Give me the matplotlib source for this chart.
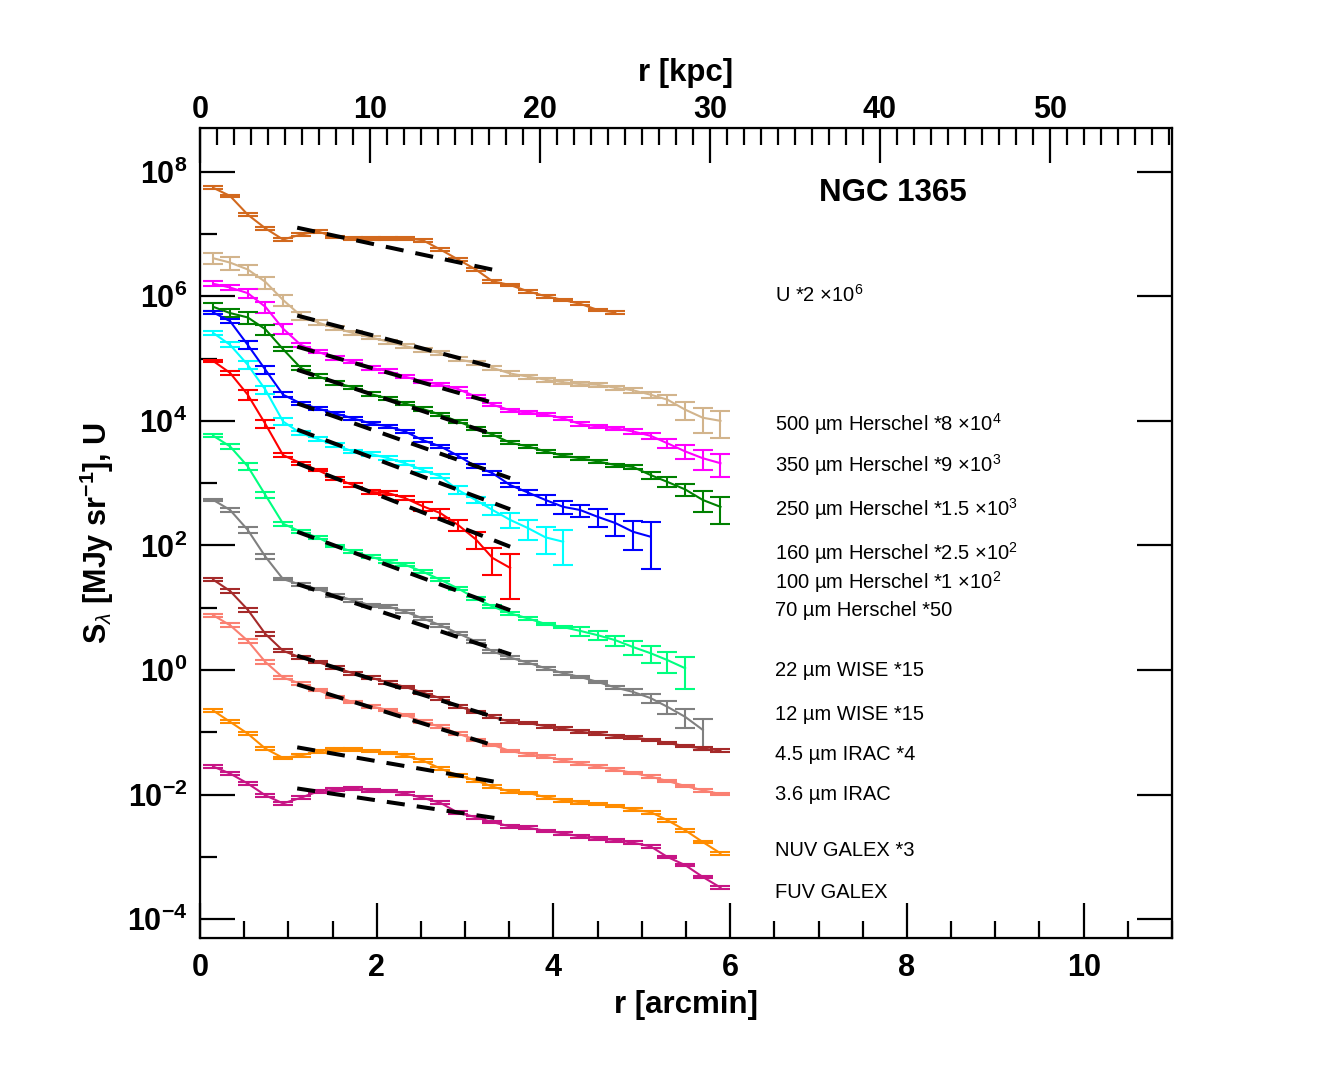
import matplotlib
matplotlib.use("Agg")
import matplotlib.pyplot as plt
from matplotlib.ticker import FixedLocator, MultipleLocator, NullFormatter
import numpy as np

plt.rcParams['font.family'] = ['Liberation Sans', 'DejaVu Sans']
plt.rcParams['mathtext.fontset'] = 'custom'
plt.rcParams['mathtext.rm'] = 'Liberation Sans'
plt.rcParams['mathtext.bf'] = 'Liberation Sans:bold'
plt.rcParams['mathtext.it'] = 'Liberation Sans:italic'

KPC_PER_ARCMIN = 5.2

# radial bins [arcmin]
r = [0.15, 0.34, 0.54, 0.74, 0.94, 1.14, 1.33, 1.53, 1.73, 1.93,
     2.13, 2.32, 2.52, 2.72, 2.92, 3.12, 3.31, 3.51, 3.71, 3.91,
     4.11, 4.30, 4.50, 4.70, 4.90, 5.10, 5.29, 5.49, 5.69, 5.89]

names = ["U", "500", "350", "250", "160", "100", "70",
         "22", "12", "4.5", "3.6", "NUV", "FUV"]
colors = ["#D2691E", "#D2B48C", "#FF00FF", "#008000", "#0000FF", "#00FFFF", "#FF0000",
          "#00FF7F", "#808080", "#A52A2A", "#FA8072", "#FF8C00", "#C71585"]
labels = [r"U *2 $\times\mathregular{10^{6}}$",
          r"500 µm Herschel *8 $\times\mathregular{10^{4}}$",
          r"350 µm Herschel *9 $\times\mathregular{10^{3}}$",
          r"250 µm Herschel *1.5 $\times\mathregular{10^{3}}$",
          r"160 µm Herschel *2.5 $\times\mathregular{10^{2}}$",
          r"100 µm Herschel *1 $\times\mathregular{10^{2}}$",
          "70 µm Herschel *50",
          "22 µm WISE *15",
          "12 µm WISE *15",
          "4.5 µm IRAC *4",
          "3.6 µm IRAC",
          "NUV GALEX *3",
          "FUV GALEX"]
label_y = [295, 424, 465, 509, 553, 582, 611, 670, 715, 754, 794, 851, 893]  # pixel rows

# log10 of scaled surface brightness
logS_U = [7.74, 7.61, 7.31, 7.09, 6.91, 6.99, 7.04, 6.95, 6.93, 6.93, 6.93, 6.93, 6.90, 6.75, 6.59,
          6.43, 6.24, 6.18, 6.08, 6.00, 5.94, 5.88, 5.78, 5.74]
logS_500 = [6.61, 6.54, 6.43, 6.23, 5.94, 5.69, 5.58, 5.49, 5.41, 5.34, 5.27, 5.20, 5.14, 5.09, 4.99,
            4.93, 4.85, 4.76, 4.71, 4.66, 4.62, 4.59, 4.58, 4.53, 4.49, 4.42, 4.34, 4.18, 4.05, 4.00]
logS_350 = [6.20, 6.14, 6.05, 5.83, 5.48, 5.22, 5.11, 5.01, 4.95, 4.85, 4.80, 4.71, 4.63, 4.58, 4.51,
            4.39, 4.26, 4.17, 4.13, 4.10, 4.04, 3.95, 3.91, 3.88, 3.83, 3.76, 3.64, 3.51, 3.40, 3.32]
logS_250 = [5.83, 5.73, 5.66, 5.47, 5.15, 4.85, 4.72, 4.61, 4.54, 4.43, 4.36, 4.28, 4.19, 4.10, 3.99,
            3.88, 3.78, 3.65, 3.59, 3.51, 3.44, 3.40, 3.35, 3.29, 3.26, 3.13, 3.02, 2.90, 2.73, 2.62]
logS_160 = [5.74, 5.60, 5.22, 4.82, 4.42, 4.28, 4.20, 4.12, 4.04, 3.96, 3.91, 3.83, 3.69, 3.59, 3.44,
            3.27, 3.16, 2.97, 2.85, 2.73, 2.62, 2.57, 2.46, 2.36, 2.22, 2.14]
logS_100 = [5.41, 5.22, 4.90, 4.50, 3.99, 3.80, 3.71, 3.61, 3.51, 3.47, 3.40, 3.32, 3.21, 3.11, 2.89,
            2.73, 2.57, 2.41, 2.28, 2.13, 2.06]
logS_70 = [4.96, 4.77, 4.42, 3.95, 3.45, 3.32, 3.21, 3.08, 2.97, 2.86, 2.84, 2.76, 2.63, 2.52, 2.33,
           2.10, 1.80, 1.64]
logS_22 = [3.76, 3.59, 3.27, 2.81, 2.35, 2.22, 2.13, 1.99, 1.90, 1.82, 1.74, 1.69, 1.58, 1.45, 1.31,
           1.15, 1.02, 0.91, 0.83, 0.74, 0.69, 0.63, 0.56, 0.48, 0.37, 0.27, 0.16, 0.03]
logS_12 = [2.73, 2.57, 2.25, 1.82, 1.46, 1.37, 1.30, 1.20, 1.12, 1.04, 1.02, 0.94, 0.83, 0.72, 0.59,
           0.46, 0.30, 0.20, 0.12, 0.03, -0.05, -0.11, -0.19, -0.28, -0.35, -0.45, -0.59, -0.75, -0.96]
logS_45 = [1.45, 1.27, 0.97, 0.58, 0.31, 0.20, 0.13, 0.04, -0.05, -0.12, -0.20, -0.27, -0.36, -0.45, -0.58,
           -0.67, -0.75, -0.83, -0.85, -0.90, -0.94, -0.99, -1.02, -1.06, -1.08, -1.12, -1.17, -1.22, -1.26, -1.29]
logS_36 = [0.88, 0.72, 0.47, 0.13, -0.12, -0.22, -0.32, -0.43, -0.51, -0.58, -0.64, -0.72, -0.83, -0.91, -1.02,
           -1.12, -1.20, -1.30, -1.35, -1.39, -1.45, -1.50, -1.55, -1.60, -1.65, -1.71, -1.78, -1.86, -1.93, -1.99]
logS_NUV = [-0.65, -0.83, -1.02, -1.26, -1.41, -1.37, -1.31, -1.27, -1.27, -1.30, -1.33, -1.37, -1.45, -1.58, -1.69,
            -1.77, -1.87, -1.95, -1.97, -2.04, -2.09, -2.12, -2.15, -2.18, -2.24, -2.28, -2.41, -2.57, -2.76, -2.94]
logS_FUV = [-1.55, -1.66, -1.82, -2.01, -2.14, -2.05, -1.95, -1.92, -1.90, -1.93, -1.94, -1.98, -2.05, -2.13, -2.29,
            -2.36, -2.44, -2.51, -2.53, -2.58, -2.62, -2.67, -2.70, -2.73, -2.77, -2.83, -3.00, -3.13, -3.32, -3.49]

# fractional errors
err_U = [0.05, 0.05, 0.05, 0.05, 0.05, 0.05, 0.05, 0.05, 0.05, 0.05, 0.05, 0.05, 0.05, 0.05, 0.05,
         0.05, 0.05, 0.05, 0.05, 0.05, 0.05, 0.05, 0.05, 0.05]
err_500 = [0.20, 0.23, 0.20, 0.22, 0.20, 0.15, 0.08, 0.07, 0.07, 0.07, 0.07, 0.07, 0.07, 0.07, 0.07,
           0.07, 0.07, 0.08, 0.08, 0.08, 0.08, 0.08, 0.08, 0.08, 0.09, 0.10, 0.17, 0.33, 0.44, 0.46]
err_350 = [0.09, 0.08, 0.18, 0.21, 0.18, 0.07, 0.06, 0.06, 0.06, 0.06, 0.06, 0.06, 0.06, 0.06, 0.06,
           0.06, 0.06, 0.06, 0.06, 0.06, 0.06, 0.06, 0.06, 0.06, 0.08, 0.10, 0.15, 0.25, 0.36, 0.41]
err_250 = [0.14, 0.15, 0.23, 0.18, 0.08, 0.06, 0.06, 0.06, 0.06, 0.06, 0.06, 0.06, 0.06, 0.06, 0.06,
           0.06, 0.06, 0.06, 0.06, 0.06, 0.06, 0.06, 0.06, 0.06, 0.06, 0.12, 0.18, 0.21, 0.37, 0.46]
err_160 = [0.05, 0.08, 0.14, 0.15, 0.09, 0.07, 0.07, 0.07, 0.07, 0.07, 0.07, 0.07, 0.07, 0.07, 0.07,
           0.07, 0.07, 0.07, 0.10, 0.18, 0.22, 0.22, 0.32, 0.38, 0.49, 0.70]
err_100 = [0.06, 0.09, 0.15, 0.15, 0.13, 0.07, 0.07, 0.07, 0.07, 0.07, 0.07, 0.07, 0.07, 0.07, 0.15,
           0.12, 0.18, 0.27, 0.35, 0.46, 0.57]
err_70 = [0.05, 0.09, 0.18, 0.15, 0.07, 0.05, 0.05, 0.06, 0.06, 0.06, 0.07, 0.08, 0.15, 0.17, 0.20,
          0.31, 0.46, 0.68]
err_22 = [0.05, 0.09, 0.12, 0.12, 0.07, 0.05, 0.05, 0.05, 0.05, 0.05, 0.05, 0.05, 0.05, 0.05, 0.05,
          0.05, 0.05, 0.05, 0.05, 0.05, 0.05, 0.16, 0.16, 0.18, 0.25, 0.31, 0.37, 0.54]
err_12 = [0.05, 0.09, 0.12, 0.09, 0.05, 0.05, 0.05, 0.05, 0.05, 0.05, 0.05, 0.05, 0.05, 0.05, 0.05,
          0.05, 0.05, 0.05, 0.05, 0.05, 0.05, 0.05, 0.05, 0.05, 0.12, 0.17, 0.22, 0.33, 0.52]
err_45 = [0.05, 0.08, 0.08, 0.08, 0.05, 0.05, 0.05, 0.05, 0.05, 0.05, 0.05, 0.05, 0.05, 0.05, 0.05,
          0.05, 0.05, 0.05, 0.05, 0.05, 0.05, 0.05, 0.05, 0.05, 0.05, 0.05, 0.05, 0.05, 0.05, 0.05]
err_36 = [0.06, 0.08, 0.08, 0.08, 0.06, 0.05, 0.05, 0.05, 0.05, 0.05, 0.05, 0.05, 0.05, 0.05, 0.05,
          0.05, 0.05, 0.05, 0.05, 0.05, 0.05, 0.05, 0.05, 0.05, 0.05, 0.05, 0.05, 0.05, 0.05, 0.05]
err_NUV = [0.05, 0.05, 0.05, 0.05, 0.05, 0.05, 0.05, 0.05, 0.05, 0.05, 0.05, 0.05, 0.05, 0.05, 0.05,
           0.05, 0.05, 0.05, 0.05, 0.05, 0.05, 0.05, 0.05, 0.05, 0.05, 0.05, 0.05, 0.05, 0.05, 0.05]
err_FUV = [0.05, 0.05, 0.05, 0.05, 0.05, 0.05, 0.05, 0.05, 0.05, 0.05, 0.05, 0.05, 0.05, 0.05, 0.05,
           0.05, 0.05, 0.05, 0.05, 0.05, 0.05, 0.05, 0.05, 0.05, 0.05, 0.05, 0.05, 0.05, 0.05, 0.05]

# exponential-disc fits (log10 at start / end radius)
fit_r0 = 1.10
fit_r1 = [3.43, 3.41, 3.39, 3.37, 3.51, 3.51, 3.51, 3.51, 3.52, 3.41, 3.37, 3.45, 3.46]
fit_y0 = [7.10, 5.69, 5.19, 4.82, 4.28, 3.86, 3.32, 2.22, 1.38, 0.23, -0.23, -1.24, -1.90]
fit_y1 = [6.39, 4.83, 4.26, 3.76, 3.08, 2.58, 1.98, 0.96, 0.25, -0.79, -1.23, -1.82, -2.40]

logS = [logS_U, logS_500, logS_350, logS_250, logS_160, logS_100, logS_70,
        logS_22, logS_12, logS_45, logS_36, logS_NUV, logS_FUV]
errs = [err_U, err_500, err_350, err_250, err_160, err_100, err_70,
        err_22, err_12, err_45, err_36, err_NUV, err_FUV]

fig = plt.figure(figsize=(13.34, 10.67), dpi=100)
W, H = 1334, 1067
x0, x1, y0, y1 = 200, 1172, 128, 938
ax = fig.add_axes([x0 / W, 1 - y1 / H, (x1 - x0) / W, (y1 - y0) / H])

for ls, er, c in zip(logS, errs, colors):
    rr = np.array(r[:len(ls)])
    s = 10 ** np.array(ls)
    ax.errorbar(rr, s, yerr=s * np.array(er), color=c, lw=1.5, elinewidth=1.5,
                capsize=7.2, capthick=1.5)

for r1, f0, f1 in zip(fit_r1, fit_y0, fit_y1):
    ax.plot([fit_r0, r1], [10 ** f0, 10 ** f1], color='black', lw=2.9,
            dashes=(4.5, 3), zorder=5)

ax.set_yscale('log')
ax.set_xlim(0, 11)
ax.set_ylim(10 ** -4.3, 10 ** 8.7)

ymaj = [1e-4, 1e-2, 1e0, 1e2, 1e4, 1e6, 1e8]
ymaj_labels = [r"$\mathbf{10^{-4}}$", r"$\mathbf{10^{-2}}$", r"$\mathbf{10^{0}}$",
               r"$\mathbf{10^{2}}$", r"$\mathbf{10^{4}}$", r"$\mathbf{10^{6}}$", r"$\mathbf{10^{8}}$"]
ax.yaxis.set_major_locator(FixedLocator(ymaj))
ax.yaxis.set_minor_locator(FixedLocator([1e-3, 1e-1, 1e1, 1e3, 1e5, 1e7]))
ax.yaxis.set_minor_formatter(NullFormatter())
ax.set_yticklabels(ymaj_labels)

ax.xaxis.set_major_locator(MultipleLocator(2))
ax.xaxis.set_minor_locator(MultipleLocator(0.5))

ax.tick_params(axis='both', which='both', direction='in', width=1.6, labelsize=22)
ax.tick_params(axis='both', which='major', length=25)
ax.tick_params(axis='both', which='minor', length=12)
ax.tick_params(axis='x', top=False, bottom=True, pad=11)
ax.tick_params(axis='y', left=True, right=True, pad=9)
for lab in ax.get_xticklabels():
    lab.set_fontweight('bold')
for sp in ax.spines.values():
    sp.set_linewidth(1.6)

ax2 = ax.twiny()
ax2.set_xlim(0, 11 * KPC_PER_ARCMIN)
ax2.xaxis.set_major_locator(MultipleLocator(10))
ax2.xaxis.set_minor_locator(MultipleLocator(1))
ax2.tick_params(axis='x', which='both', direction='in', width=1.6, labelsize=22, pad=2)
ax2.tick_params(axis='x', which='major', length=25)
ax2.tick_params(axis='x', which='minor', length=12)
for lab in ax2.get_xticklabels():
    lab.set_fontweight('bold')

ax.set_xlabel("r [arcmin]", fontsize=22.5, fontweight='bold', labelpad=5)
ax2.set_xlabel("r [kpc]", fontsize=22.5, fontweight='bold', labelpad=10)
ax.set_ylabel(r"S$_{\lambda}$ [MJy sr$^{\mathbf{-1}}$], U", fontsize=22, fontweight='bold', labelpad=8)

ax.text((893 - x0) / (x1 - x0), (y1 - 193) / (y1 - y0), "NGC 1365", transform=ax.transAxes,
        fontsize=22.5, fontweight='bold', ha='center', va='center')

for lab, py in zip(labels, label_y):
    ax.text((775 - x0) / (x1 - x0), (y1 - py) / (y1 - y0), lab, transform=ax.transAxes,
            fontsize=14.5, ha='left', va='center')

fig.savefig("out.png", dpi=100)
